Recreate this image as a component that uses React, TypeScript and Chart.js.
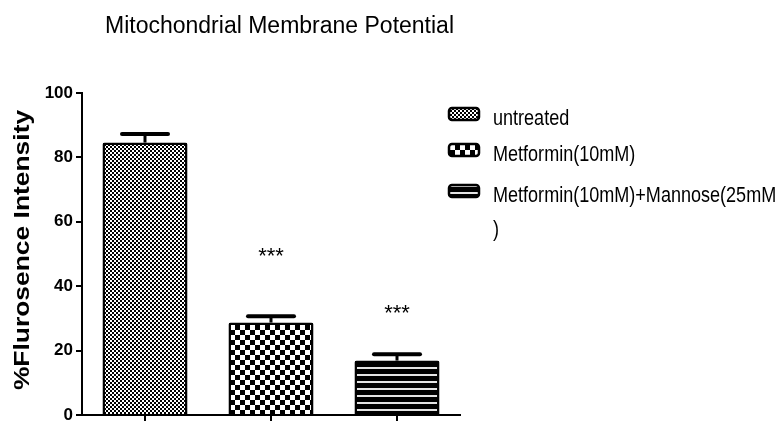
import React, { useEffect, useRef } from "react";
import { Chart, registerables } from "chart.js";

Chart.register(...registerables);

// ---- data ----
const categories = ["untreated", "Metformin(10mM)", "Metformin(10mM)+Mannose(25mM)"];
const legendLines = [["untreated"], ["Metformin(10mM)"], ["Metformin(10mM)+Mannose(25mM", ")"]];
const means = [84.6, 28.7, 16.9];
const sems = [2.7, 2.0, 2.0];
const sigLabels = ["", "***", "***"];
const sigLevels = [0, 51.2, 33.5];
const yTicks = [0, 20, 40, 60, 80, 100];
const titleText = "Mitochondrial Membrane Potential";
const yTitleText = "%Flurosence Intensity";

const FONT = '"Liberation Sans", Arial, sans-serif';

function makePatterns(main: CanvasRenderingContext2D): CanvasPattern[] {
  const mk = (w: number, h: number, draw: (c: CanvasRenderingContext2D) => void) => {
    const c = document.createElement("canvas");
    c.width = w;
    c.height = h;
    const cx = c.getContext("2d")!;
    draw(cx);
    return main.createPattern(c, "repeat")!;
  };
  const fine = mk(4, 4, (c) => {
    c.fillStyle = "#fff";
    c.fillRect(0, 0, 4, 4);
    c.fillStyle = "#000";
    c.fillRect(0, 0, 2, 2);
    c.fillRect(2, 2, 2, 2);
  });
  const coarse = mk(10, 10, (c) => {
    c.fillStyle = "#fff";
    c.fillRect(0, 0, 10, 10);
    c.fillStyle = "#000";
    c.fillRect(0, 0, 5, 5);
    c.fillRect(5, 5, 5, 5);
  });
  const stripes = mk(4, 7, (c) => {
    c.fillStyle = "#000";
    c.fillRect(0, 0, 4, 7);
    c.fillStyle = "#e4e4e4";
    c.fillRect(0, 3, 4, 2);
  });
  return [fine, coarse, stripes];
}

export default function App() {
  const ref = useRef<HTMLCanvasElement | null>(null);

  useEffect(() => {
    document.body.style.margin = "0";
    const canvas = ref.current!;
    const ctx0 = canvas.getContext("2d")!;
    const patterns = makePatterns(ctx0);

    const overlay = {
      id: "overlay",
      afterDatasetsDraw(chart: any) {
        const ctx = chart.ctx as CanvasRenderingContext2D;
        const y = chart.scales.y;
        const meta = chart.getDatasetMeta(0);
        ctx.save();
        ctx.strokeStyle = "#000";
        ctx.fillStyle = "#000";
        meta.data.forEach((bar: any, i: number) => {
          const x = bar.x;
          const yMean = y.getPixelForValue(means[i]);
          const yTop = y.getPixelForValue(means[i] + sems[i]);
          ctx.lineWidth = 3;
          ctx.lineCap = "butt";
          ctx.beginPath();
          ctx.moveTo(x, yMean);
          ctx.lineTo(x, yTop);
          ctx.stroke();
          ctx.lineWidth = 4;
          ctx.lineCap = "round";
          ctx.beginPath();
          ctx.moveTo(x - 23, yTop);
          ctx.lineTo(x + 23, yTop);
          ctx.stroke();
          if (sigLabels[i]) {
            const fs = 22;
            ctx.font = `${fs}px ${FONT}`;
            ctx.textAlign = "center";
            ctx.textBaseline = "alphabetic";
            ctx.fillText(sigLabels[i], x, y.getPixelForValue(sigLevels[i]) + 0.575 * fs);
          }
        });
        ctx.restore();
      },
      afterDraw(chart: any) {
        const ctx = chart.ctx as CanvasRenderingContext2D;
        const area = chart.chartArea;
        ctx.save();
        ctx.fillStyle = "#000";
        // title
        ctx.font = `23px ${FONT}`;
        ctx.textAlign = "left";
        ctx.textBaseline = "alphabetic";
        ctx.fillText(titleText, 105, 33);
        // y axis title
        ctx.save();
        ctx.translate(29, (area.top + area.bottom) / 2 - 4);
        ctx.rotate(-Math.PI / 2);
        ctx.scale(1.2, 1);
        ctx.font = `bold 22px ${FONT}`;
        ctx.textAlign = "center";
        ctx.fillText(yTitleText, 0, 0);
        ctx.restore();
        // legend
        const bx = area.right - 11;
        const tx = area.right + 33;
        const baselines = [125, 161, 202];
        legendLines.forEach((lines, i) => {
          const base = baselines[i];
          ctx.save();
          ctx.beginPath();
          ctx.roundRect(bx, base - 17, 30, 12, 3);
          ctx.fillStyle = patterns[i];
          ctx.fill();
          ctx.lineWidth = 2.5;
          ctx.strokeStyle = "#000";
          ctx.stroke();
          ctx.restore();
          lines.forEach((t, j) => {
            ctx.save();
            ctx.translate(tx, base + j * 34);
            ctx.scale(0.82, 1);
            ctx.font = `22px ${FONT}`;
            ctx.fillStyle = "#000";
            ctx.textAlign = "left";
            ctx.fillText(t, 0, 0);
            ctx.restore();
          });
        });
        ctx.restore();
      },
    };

    const chart = new Chart(canvas, {
      type: "bar",
      data: {
        labels: categories,
        datasets: [
          {
            data: means,
            backgroundColor: patterns as any,
            borderColor: "#000",
            borderWidth: 2.5,
            borderRadius: 2,
            categoryPercentage: 0.675,
            barPercentage: 1,
          },
        ],
      },
      options: {
        responsive: false,
        animation: false,
        devicePixelRatio: 1,
        layout: { padding: { top: 93, right: 324, left: 0, bottom: 0 } },
        plugins: {
          legend: { display: false },
          tooltip: { enabled: false },
          title: { display: false },
        },
        scales: {
          x: {
            type: "category",
            ticks: { display: false },
            grid: {
              offset: false,
              drawOnChartArea: false,
              drawTicks: true,
              tickLength: 6,
              color: "#000",
              lineWidth: 2,
            },
            border: { color: "#000", width: 2 },
            afterFit: (s: any) => {
              s.height = 6;
              s.paddingLeft = 0;
              s.paddingRight = 0;
            },
          },
          y: {
            min: 0,
            max: 100,
            afterBuildTicks: (s: any) => {
              s.ticks = yTicks.map((v) => ({ value: v }));
            },
            ticks: {
              color: "#000",
              padding: 3,
              font: { family: FONT, size: 17, weight: "bold" },
            },
            grid: {
              drawOnChartArea: false,
              tickLength: 6,
              color: "#000",
              lineWidth: 2,
            },
            border: { color: "#000", width: 2 },
            afterFit: (s: any) => {
              s.width = 82;
              s.paddingTop = 0;
              s.paddingBottom = 0;
            },
          },
        },
      } as any,
      plugins: [overlay],
    });

    return () => chart.destroy();
  }, []);

  return (
    <div style={{ width: 784, height: 421, background: "#fff" }}>
      <canvas ref={ref} width={784} height={421} style={{ display: "block" }} />
    </div>
  );
}
